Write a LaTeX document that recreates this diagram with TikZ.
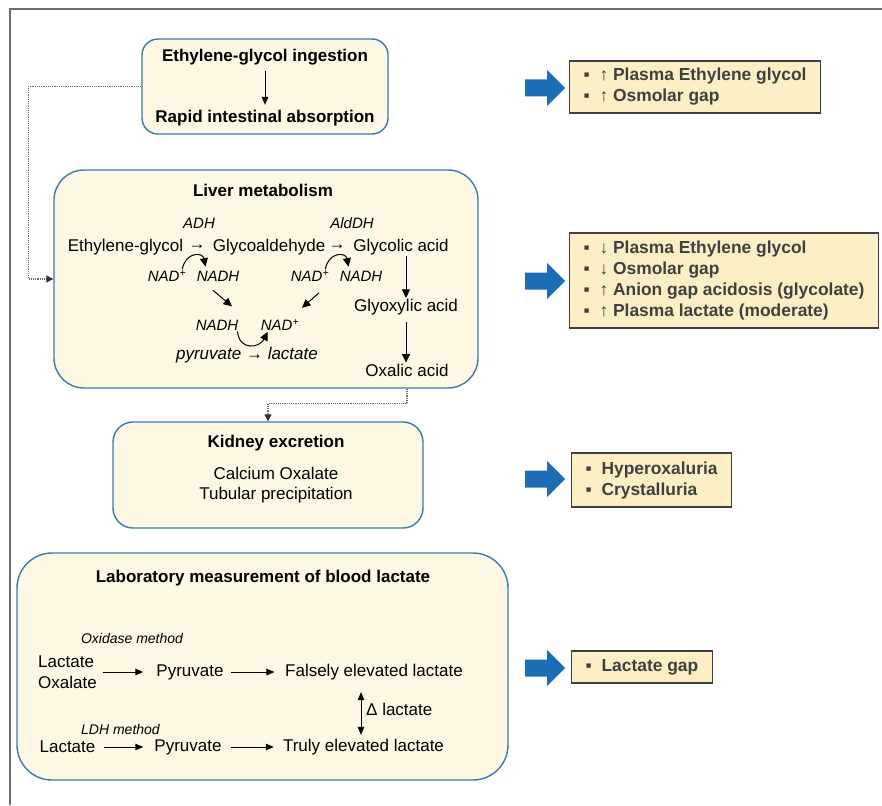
\documentclass[tikz,border=0pt]{standalone}
\usepackage{fontspec}
\setmainfont{Liberation Sans}
\usetikzlibrary{arrows.meta}
\definecolor{cream}{HTML}{FDF8E4}
\definecolor{bborder}{HTML}{3D78B2}
\definecolor{ybox}{HTML}{FCEFC5}
\definecolor{ygray}{HTML}{404040}
\definecolor{arrowblue}{HTML}{1C6DB6}
\definecolor{framegray}{HTML}{6E6E6E}
\newcommand\bul{\makebox[16pt][l]{▪}}
\begin{document}
\fontsize{17}{20.5}\selectfont
\begin{tikzpicture}[x=1pt,y=-1pt,
  rbox/.style={draw=bborder, fill=cream, line width=1.4pt, inner sep=0pt},
  txt/.style={inner sep=1pt},
  sm/.style={font=\fontsize{15}{18}\selectfont\itshape, inner sep=1pt},
  meth/.style={font=\fontsize{14}{17}\selectfont\itshape, inner sep=1pt},
  arr/.style={-{Triangle[length=8pt,width=6.5pt]}, line width=1pt},
  carr/.style={-{Triangle[length=8.5pt,width=8pt]}, line width=1pt},
  darr/.style={{Triangle[length=8pt,width=6.5pt]}-{Triangle[length=8pt,width=6.5pt]}, line width=1pt},
  dotc/.style={densely dotted, draw=framegray, line width=1.2pt, -{Triangle[length=7pt,width=7pt,color=black!80]}},
  ybx/.style={draw=ygray, fill=ybox, line width=1.1pt, text=ygray, font=\bfseries\fontsize{17.4}{21}\selectfont, align=left, inner xsep=14pt, inner ysep=0pt, anchor=west},
  barrow/.pic={\fill[arrowblue] (0,-8.5) -- (22,-8.5) -- (22,-18) -- (40,0) -- (22,18) -- (22,8.5) -- (0,8.5) -- cycle;}
]
\useasboundingbox (0,0) rectangle (882,805);
% frame
\draw[framegray, line width=1.5pt] (882,9) -- (10,9) -- (10,805);

% ingestion box
\node[rbox, rounded corners=16pt, minimum width=246pt, minimum height=95pt] (b1) at (265,86.5) {};
\node[txt, font=\bfseries] (t1) at (265,57) {Ethylene-glycol ingestion};
\node[txt, font=\bfseries] (t2) at (265,118) {Rapid intestinal absorption};
\draw[arr, shorten <=5pt, shorten >=4pt] (t1) -- (t2);

% liver box
\node[rbox, rounded corners=30pt, minimum width=424pt, minimum height=218pt] (liver) at (266,279) {};
\node[txt, font=\bfseries] (lt) at (263,190) {Liver metabolism};
\node[sm] (adh) at (199,223) {ADH};
\node[sm] (aldh) at (352,223) {AldDH};
\node[txt] (eg) at (125.5,247) {Ethylene-glycol};
\node[txt] (ar1) at (197,247) {→};
\node[txt] (gald) at (269,247) {Glycoaldehyde};
\node[txt] (ar2) at (337,247) {→};
\node[txt] (glc) at (401,247) {Glycolic acid};
\node[sm] (nadp1) at (167,276) {NAD\textsuperscript{+}};
\node[sm] (nadh1) at (218,276) {NADH};
\node[sm] (nadp2) at (310,276) {NAD\textsuperscript{+}};
\node[sm] (nadh2) at (361,276) {NADH};
\node[sm] (nadh3) at (217,325) {NADH};
\node[sm] (nadp3) at (280,325) {NAD\textsuperscript{+}};
\node[txt, font=\itshape] (pl) at (247,355) {pyruvate → lactate};
\node[txt] (glx) at (406,307) {Glyoxylic acid};
\node[txt] (oxa) at (407,370) {Oxalic acid};

\draw[carr] ([xshift=-5pt]nadp1.north east) .. controls +(3,-17) and +(-3,-15) .. ([xshift=10pt,yshift=3pt]nadh1.north west);
\draw[carr] ([xshift=-5pt]nadp2.north east) .. controls +(3,-17) and +(-3,-15) .. ([xshift=10pt,yshift=3pt]nadh2.north west);
\draw[carr] ([xshift=-5pt,yshift=-8pt]nadh1.south) -- ++(19,16);
\draw[carr] ([xshift=9pt,yshift=-10pt]nadp2.south) -- ++(-17,15);
\draw[carr] ([xshift=-2pt]nadh3.south east) .. controls +(2,20) and +(-8,16) .. ([xshift=8pt]nadp3.south west);
\draw[carr] (glx.north |- glc.south) -- (glx.north);
\draw[carr, shorten <=6pt] (glx.south) -- (glx.south |- oxa.north);

% kidney box
\node[rbox, rounded corners=20pt, minimum width=310pt, minimum height=106pt] (kid) at (268,475) {};
\node[txt, font=\bfseries] (kt) at (276,443) {Kidney excretion};
\node[txt, align=center, font={\fontsize{17}{20}\selectfont}] (kx) at (276,485) {Calcium Oxalate\\Tubular precipitation};

% dotted connectors
\draw[dotc] (b1.west) -- ++(-113,0) |- (liver.west);
\draw[dotc] (oxa.south |- liver.south) -- ++(0,15) -| (kid.north);

% lab box
\node[rbox, rounded corners=35pt, minimum width=491pt, minimum height=227pt] (lab) at (262.5,666.5) {};
\node[txt, font=\bfseries] (labt) at (263,578) {Laboratory measurement of blood lactate};
\node[meth] (oxm) at (132,638) {Oxidase method};
\node[txt, align=left, anchor=west, font={\fontsize{17}{21}\selectfont}] (lo) at (37,672.5) {Lactate\\Oxalate};
\node[txt] (py1) at (190,672) {Pyruvate};
\node[txt] (fal) at (374,672) {Falsely elevated lactate};
\node[txt, anchor=west] (dl) at (365,709) {Δ lactate};
\node[meth, anchor=west] (ldm) at (80,729) {LDH method};
\node[txt] (lac2) at (67.5,747) {Lactate};
\node[txt] (py2) at (188,747) {Pyruvate};
\node[txt] (tru) at (363.5,747) {Truly elevated lactate};
\draw[arr, shorten <=5pt, shorten >=12pt] (lo.east |- py1) -- (py1);
\draw[arr, shorten <=6.5pt, shorten >=9.5pt] (py1) -- (fal);
\draw[arr, shorten <=7pt, shorten >=10pt] (lac2) -- (py2);
\draw[arr, shorten <=8pt, shorten >=8pt] (py2) -- (tru);
\draw[darr, shorten <=11pt, shorten >=3pt] ([xshift=-13pt]fal.south) -- ([xshift=-2.5pt]tru.north);

% right boxes
\node[ybx, minimum height=52pt] (ra) at (569,87) {\bul↑ Plasma Ethylene glycol\\\bul↑ Osmolar gap};
\node[ybx, minimum height=95pt] (rb) at (569,280.5) {\bul↓ Plasma Ethylene glycol\\\bul↓ Osmolar gap\\\bul↑ Anion gap acidosis (glycolate)\\\bul↑ Plasma lactate (moderate)};
\node[ybx, minimum height=54pt] (rc) at (571,480) {\bul Hyperoxaluria\\\bul Crystalluria};
\node[ybx, minimum height=32pt] (rd) at (571,667) {\bul Lactate gap};
\pic at (525,88) {barrow};
\pic at (525,281) {barrow};
\pic at (525,479) {barrow};
\pic at (525,668) {barrow};
\end{tikzpicture}
\end{document}
